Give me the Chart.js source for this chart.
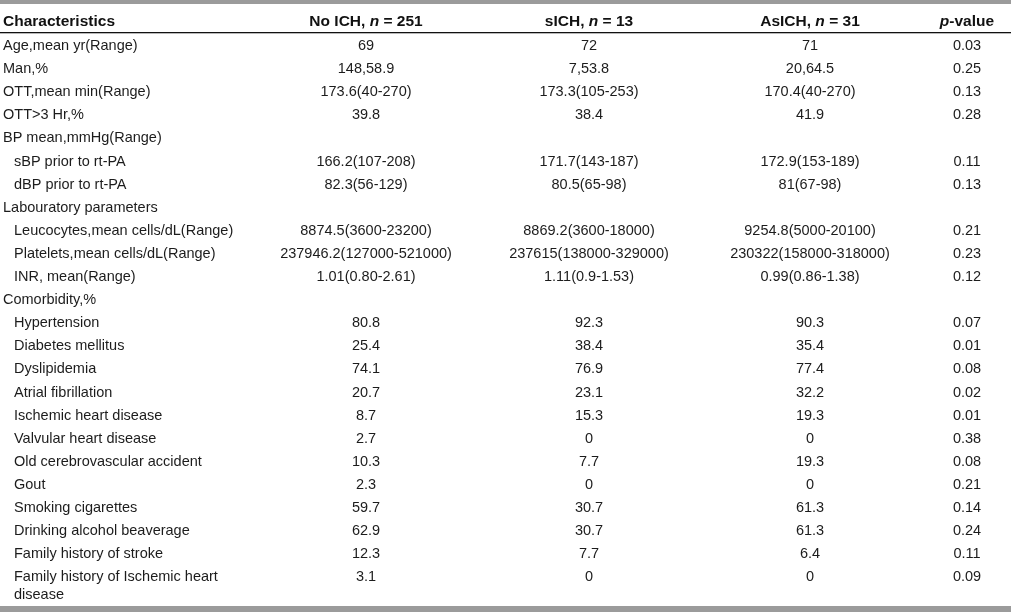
<!DOCTYPE html>
<html>
<head>
<meta charset="utf-8">
<script src="https://cdn.jsdelivr.net/npm/chart.js@4"></script>
<style>
  html, body { margin: 0; padding: 0; background: #fff; }
  #wrap { width: 1011px; height: 612px; position: relative; }
</style>
</head>
<body>
<div id="wrap"><canvas id="tableChart"></canvas></div>
<script>
// Table data
const characteristics = [
  "Age,mean yr(Range)", "Man,%", "OTT,mean min(Range)", "OTT>3 Hr,%",
  "BP mean,mmHg(Range)", "sBP prior to rt-PA", "dBP prior to rt-PA",
  "Labouratory parameters", "Leucocytes,mean cells/dL(Range)",
  "Platelets,mean cells/dL(Range)", "INR, mean(Range)", "Comorbidity,%",
  "Hypertension", "Diabetes mellitus", "Dyslipidemia", "Atrial fibrillation",
  "Ischemic heart disease", "Valvular heart disease", "Old cerebrovascular accident",
  "Gout", "Smoking cigarettes", "Drinking alcohol beaverage",
  "Family history of stroke", "Family history of Ischemic heart\ndisease"
];
const indented = [0, 0, 0, 0, 0, 1, 1, 0, 1, 1, 1, 0, 1, 1, 1, 1, 1, 1, 1, 1, 1, 1, 1, 1];

const noIch = ["69", "148,58.9", "173.6(40-270)", "39.8", "", "166.2(107-208)", "82.3(56-129)", "",
  "8874.5(3600-23200)", "237946.2(127000-521000)", "1.01(0.80-2.61)", "",
  "80.8", "25.4", "74.1", "20.7", "8.7", "2.7", "10.3", "2.3", "59.7", "62.9", "12.3", "3.1"];
const sIch = ["72", "7,53.8", "173.3(105-253)", "38.4", "", "171.7(143-187)", "80.5(65-98)", "",
  "8869.2(3600-18000)", "237615(138000-329000)", "1.11(0.9-1.53)", "",
  "92.3", "38.4", "76.9", "23.1", "15.3", "0", "7.7", "0", "30.7", "30.7", "7.7", "0"];
const asIch = ["71", "20,64.5", "170.4(40-270)", "41.9", "", "172.9(153-189)", "81(67-98)", "",
  "9254.8(5000-20100)", "230322(158000-318000)", "0.99(0.86-1.38)", "",
  "90.3", "35.4", "77.4", "32.2", "19.3", "0", "19.3", "0", "61.3", "61.3", "6.4", "0"];
const pValues = ["0.03", "0.25", "0.13", "0.28", "", "0.11", "0.13", "",
  "0.21", "0.23", "0.12", "", "0.07", "0.01", "0.08", "0.02", "0.01", "0.38",
  "0.08", "0.21", "0.14", "0.24", "0.11", "0.09"];

const groupNames = ["No ICH", "sICH", "AsICH"];
const groupSizes = [251, 13, 31];

// layout (x in scale units = px across the page, y in row units)
const colX = [3, 366, 589, 810, 967];
const indentX = 14;
const headerRow = -1.06;
const ruleRow = -0.62;

const bodyFont = "14.5px 'Liberation Sans', Arial, sans-serif";
const headFont = "bold 15.5px 'Liberation Sans', Arial, sans-serif";
const headItalic = "italic bold 15.5px 'Liberation Sans', Arial, sans-serif";

function drawRich(ctx, parts, x, y, align) {
  let total = 0;
  parts.forEach((p) => { ctx.font = p.i ? headItalic : headFont; total += ctx.measureText(p.t).width; });
  let cx = align === "center" ? x - total / 2 : x;
  ctx.textAlign = "left";
  parts.forEach((p) => {
    ctx.font = p.i ? headItalic : headFont;
    ctx.fillText(p.t, cx, y);
    cx += ctx.measureText(p.t).width;
  });
}

const tablePlugin = {
  id: "tableText",
  afterDraw(chart) {
    const ctx = chart.ctx;
    const xs = chart.scales.x;
    const ys = chart.scales.y;
    const area = chart.chartArea;
    ctx.save();

    // top and bottom grey bands, header rule
    ctx.fillStyle = "#9b9b9b";
    ctx.fillRect(area.left, area.top, area.right - area.left, 4);
    ctx.fillRect(area.left, area.bottom - 6, area.right - area.left, 6);
    ctx.fillStyle = "#111";
    ctx.fillRect(area.left, Math.round(ys.getPixelForValue(ruleRow)), area.right - area.left, 1.3);

    ctx.textBaseline = "middle";
    ctx.fillStyle = "#111";

    // header
    const hy = ys.getPixelForValue(headerRow);
    drawRich(ctx, [{ t: "Characteristics" }], xs.getPixelForValue(colX[0]), hy, "left");
    groupNames.forEach((g, k) => {
      drawRich(ctx, [{ t: g + ", " }, { t: "n", i: true }, { t: " = " + groupSizes[k] }],
        xs.getPixelForValue(colX[k + 1]), hy, "center");
    });
    drawRich(ctx, [{ t: "p", i: true }, { t: "-value" }], xs.getPixelForValue(colX[4]), hy, "center");

    // body
    ctx.font = bodyFont;
    ctx.fillStyle = "#1c1c1c";
    characteristics.forEach((label, i) => {
      const y = ys.getPixelForValue(i);
      ctx.textAlign = "left";
      const lx = xs.getPixelForValue(indented[i] ? indentX : colX[0]);
      label.split("\n").forEach((line, j) => {
        ctx.fillText(line, lx, y + 18 * j);
      });
      ctx.textAlign = "center";
      [noIch, sIch, asIch, pValues].forEach((col, k) => {
        if (col[i]) ctx.fillText(col[i], xs.getPixelForValue(colX[k + 1]), y);
      });
    });
    ctx.restore();
  }
};

const rowPx = 23.1;
const firstRowPx = 46;
const yMin = -firstRowPx / rowPx;
const yMax = yMin + 612 / rowPx;

new Chart(document.getElementById("tableChart"), {
  type: "scatter",
  data: { datasets: [] },
  options: {
    responsive: true,
    maintainAspectRatio: false,
    animation: false,
    layout: { padding: 0 },
    plugins: { legend: { display: false }, tooltip: { enabled: false } },
    scales: {
      x: { type: "linear", min: 0, max: 1011, display: false },
      y: { type: "linear", min: yMin, max: yMax, reverse: true, display: false }
    }
  },
  plugins: [tablePlugin]
});
</script>
</body>
</html>
